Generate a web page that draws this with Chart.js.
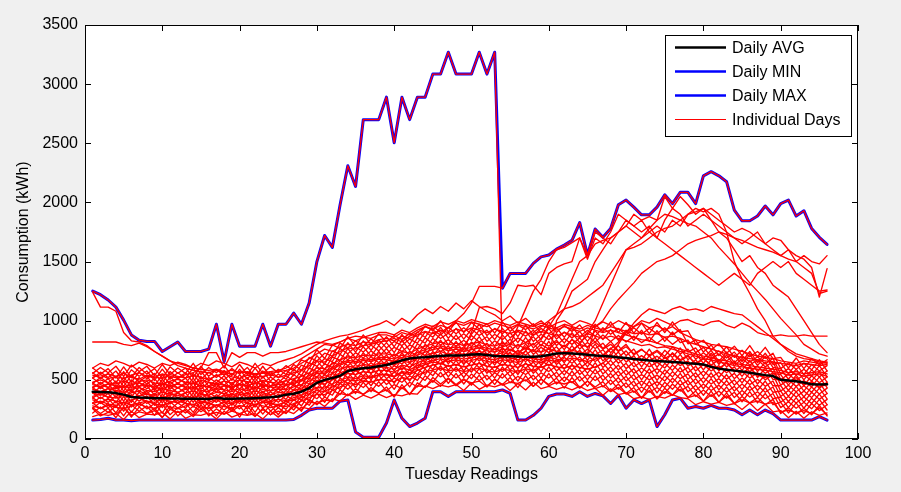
<!DOCTYPE html>
<html>
<head>
<meta charset="utf-8">
<script src="https://cdn.jsdelivr.net/npm/chart.js@4.4.0/dist/chart.umd.min.js"></script>
<style>
  html, body { margin: 0; padding: 0; background: #f0f0f0; }
  canvas { display: block; }
</style>
</head>
<body>
<canvas id="chart" width="901" height="492"></canvas>
<script>
// Tuesday consumption readings (96 readings per day, kWh)
const readings = [1,2,3,4,5,6,7,8,9,10,11,12,13,14,15,16,17,18,19,20,21,22,23,24,25,26,27,28,29,30,31,32,33,34,35,36,37,38,39,40,41,42,43,44,45,46,47,48,49,50,51,52,53,54,55,56,57,58,59,60,61,62,63,64,65,66,67,68,69,70,71,72,73,74,75,76,77,78,79,80,81,82,83,84,85,86,87,88,89,90,91,92,93,94,95,96];
const xTickValues = [0,10,20,30,40,50,60,70,80,90,100];
const yTickValues = [0,500,1000,1500,2000,2500,3000,3500];
const legendEntries = ['Daily AVG', 'Daily MIN', 'Daily MAX', 'Individual Days'];

const dailyAvg = [400,398,395,388,375,355,350,348,345,344,342,342,340,340,340,338,348,340,340,342,342,345,348,352,360,375,382,400,430,475,500,515,535,575,590,598,605,615,626,645,665,680,688,692,698,702,705,706,708,715,716,710,702,700,700,698,696,696,700,710,722,726,722,718,712,705,702,697,690,684,676,670,664,660,655,650,646,640,636,630,610,595,585,578,570,560,550,540,532,500,494,488,478,462,460,462];
const dailyMin = [160,165,175,160,160,155,160,160,160,160,160,160,160,160,160,160,160,160,160,160,160,160,160,160,160,160,165,200,245,260,260,260,320,330,60,15,15,15,135,330,175,105,135,175,400,400,360,400,400,400,400,400,400,415,385,160,160,200,260,360,380,380,360,400,360,385,365,300,370,260,330,300,330,105,205,330,345,260,275,260,285,260,260,245,205,245,205,245,215,160,160,160,160,160,190,160];
const dailyMax = [1250,1220,1175,1115,1005,880,835,825,825,740,780,820,740,740,740,760,970,655,970,785,785,785,970,785,970,970,1065,970,1150,1500,1720,1620,1980,2310,2135,2700,2700,2700,2890,2505,2890,2700,2890,2890,3085,3085,3270,3085,3085,3085,3270,3085,3270,1275,1400,1400,1400,1485,1540,1555,1605,1640,1680,1830,1555,1775,1705,1780,1980,2020,1960,1895,1895,1960,2065,1990,2085,2085,1990,2225,2260,2225,2175,1935,1845,1845,1885,1970,1895,1990,2020,1885,1930,1780,1705,1645];

// Individual Tuesdays
const day01 = [190,210,200,215,165,235,180,210,205,225,170,235,175,205,200,220,170,235,185,210,200,215,170,235,185,240,215, 270,255,320,275,340,320,380,335,370,345,380, 350,375,365,385,380,450,425,455,440,460,410,475,420,455,440,465,410,470,415,480,425,445,420,440,415,445,410,430,370,425,375,390, 340,355,335,360,345,375,350,340,290,315,295,310,285,300,250,305,240,295,230, 240,180,235,175,230,200,220];
const day02 = [255,195,225,210,265,200,230,215,240,185,250,225,240,190,255,205,225,210,235,215,240,190,260,205,235,220,275, 250,315,300,330,320,385,370,400,380,415,390, 415,360,435,380,450,440,495,445,510,450,500,475,490,440,505,455,480,470,500,445,510,450,480,465,485,430,490,425,450,400,435,380, 405,345,410,340,400,370,420,350,370,320,375,310,365,300,330,305,320,295,310, 230,245,220,240,215,265,205];
const day03 = [265,215,260,180,275,185,270,215,260,180,280,195,255,205,290,195,255,210,270,185,285,195,250,205,265,215,295, 235,335,290,355,315,415,365,425,375,435,385, 440,355,460,375,475,435,520,465,515,460,510,455,540,445,505,460,520,435,535,445,505,460,515,430,520,435,490,440,485,405,465,385, 435,345,440,340,430,370,450,350,405,320,405,310,390,300,360,305,350,290,335, 215,265,210,260,205,285,195];
const day04 = [220,270,225,280,195,290,235,280,200,295,205,265,220,280,230,275,195,290,235,280,200,295,210,290,205,300,245, 330,285,385,310,415,375,465,385,480,400,485, 405,460,425,480,440,535,480,565,470,555,465,550,495,540,460,555,475,530,490,540,460,555,465,525,475,530,445,535,440,500,420,475, 395,440,395,435,385,465,405,445,360,415,360,405,345,395,315,400,305,385,290, 310,220,305,215,300,240,290];
const day05 = [305,255,300,220,315,225,310,255,300,220,315,260,305,225,320,235,290,245,300,255,310,225,320,235,295,250,335, 280,380,340,405,370,470,420,480,435,495,445, 505,420,525,440,540,495,580,525,570,515,565,510,595,500,560,515,575,490,590,500,560,515,565,485,575,490,545,495,540,460,520,435, 490,395,490,390,480,420,500,400,455,370,455,360,440,350,410,355,400,340,385, 265,315,260,310,255,335,245];
const day06 = [260,310,265,320,235,330,275,320,240,335,250,305,260,345,250,310,265,325,240,335,250,345,260,315,265,325,275, 365,325,430,355,460,420,515,435,530,450,540, 460,515,480,535,495,590,535,620,525,610,520,605,550,595,515,610,530,585,545,595,515,610,520,580,530,585,500,590,495,555,475,530, 445,490,445,485,435,515,455,495,410,465,410,455,395,445,365,450,355,435,340, 355,265,350,260,345,285,335];
const day07 = [350,300,345,265,360,270,355,300,345,265,360,305,350,270,365,280,335,290,345,300,355,270,365,280,340,295,380, 325,425,385,450,415,515,470,530,485,545,495, 555,470,575,490,590,545,635,580,625,570,620,565,650,555,615,570,630,545,645,555,615,570,620,540,630,545,600,550,595,515,575,490, 545,450,545,445,535,475,555,455,510,425,510,415,495,405,465,410,455,395,440, 310,360,305,355,300,380,290];
const day08 = [305,355,310,365,280,375,320,365,285,380,295,350,305,390,295,355,310,370,285,380,295,390,305,360,310,370,325, 415,375,480,405,510,470,565,485,580,500,590, 510,565,530,585,545,640,590,675,580,665,575,660,605,650,570,665,585,640,600,650,570,665,575,635,585,640,555,645,550,610,530,585, 500,545,500,540,490,570,510,550,465,520,465,510,450,500,420,505,410,490,395, 405,315,400,310,395,335,385];
const day09 = [390,340,385,305,400,310,395,340,385,305,400,345,390,310,405,320,375,330,385,340,395,310,405,320,380,335,420, 365,465,430,495,460,565,520,580,535,595,545, 605,520,625,540,640,595,685,630,675,620,670,615,700,605,665,620,680,595,695,605,665,620,670,590,680,595,650,600,645,565,625,540, 595,500,595,495,585,525,605,505,560,475,560,465,545,455,515,460,505,445,490, 360,410,355,405,350,430,340];
const day10 = [345,395,350,405,320,415,360,405,325,420,335,390,345,430,335,395,350,410,325,420,335,430,345,400,350,410,365, 455,420,525,450,555,520,615,535,630,550,640, 565,620,585,640,600,695,645,730,635,720,630,715,660,705,625,720,640,695,655,705,625,720,630,690,640,695,610,700,605,665,585,640, 555,600,555,595,545,625,565,605,520,575,520,565,505,555,475,560,465,545,450, 450,360,445,355,440,380,430];
const day11 = [435,385,430,350,445,355,440,385,430,350,445,390,435,355,450,365,420,375,430,385,440,355,450,365,425,380,465, 410,515,480,545,510,615,570,630,585,645,595, 660,575,680,595,695,650,740,685,730,675,725,670,755,660,720,675,735,650,750,660,720,675,725,645,735,650,705,655,700,620,680,595, 650,555,650,550,640,580,660,560,615,530,615,520,600,510,570,515,560,500,545, 405,455,400,450,395,475,385];
const day12 = [390,440,395,450,365,460,405,450,370,465,380,435,390,475,380,440,395,455,370,465,380,475,390,445,395,455,410, 500,465,570,495,605,570,665,585,680,600,690, 615,670,635,690,655,750,700,785,690,775,685,770,715,760,680,775,695,750,710,760,680,775,685,745,695,750,665,755,660,720,640,695, 610,655,610,650,600,680,620,660,575,630,575,620,560,610,530,615,520,600,505, 500,410,495,405,490,430,480];
const day13 = [475,425,470,390,485,395,480,425,470,390,485,430,475,395,490,405,460,415,470,425,480,395,490,405,465,420,505, 450,555,525,590,560,665,620,680,635,695,645, 710,625,730,645,750,705,795,740,785,730,780,725,810,715,775,730,790,705,805,715,775,730,780,700,790,705,760,710,755,675,735,650, 705,610,705,605,695,635,715,615,670,585,670,575,655,565,625,570,615,555,600, 455,500,445,495,440,525,435];
const day14 = [430,480,435,490,405,500,445,490,410,505,420,475,430,515,420,480,435,495,410,505,420,515,430,485,435,495,450, 540,505,615,540,650,620,715,635,730,650,740, 665,720,685,740,705,800,750,835,740,825,735,820,765,810,730,825,745,800,760,810,730,825,735,795,745,800,715,805,710,770,690,745, 660,705,660,700,650,730,670,710,625,680,625,670,610,660,580,665,570,650,555, 545,455,540,450,535,475,525];
const day15 = [515,465,510,430,525,435,520,465,510,430,525,470,515,435,530,445,500,455,510,465,520,435,530,445,505,460,545, 495,600,570,635,605,715,670,730,685,745,695, 765,680,785,700,805,760,850,795,840,785,835,780,865,770,830,785,845,760,860,770,830,785,835,755,845,760,815,765,810,730,790,705, 760,665,760,660,750,690,770,670,725,640,725,630,710,620,680,625,670,610,655, 500,550,495,545,490,570,480];
const day16 = [470,520,475,530,445,540,485,530,450,545,460,515,470,555,460,520,475,535,450,545,460,555,470,525,475,535,490, 580,550,660,585,695,665,765,685,780,700,790, 720,775,740,795,760,855,805,890,795,880,790,875,820,865,785,880,800,855,815,865,785,880,790,850,800,855,770,860,765,825,745,800, 710,755,710,750,700,780,720,760,675,730,675,720,660,710,630,715,620,700,605, 595,505,590,500,585,525,575];
const day17 = [560,510,555,475,570,480,565,510,555,475,570,515,560,480,575,490,545,500,555,510,565,480,575,490,550,505,590, 535,645,615,680,655,765,720,780,735,795,745, 815,730,835,750,855,810,905,850,895,840,890,835,920,825,885,840,900,815,915,825,885,840,890,810,900,815,870,820,880,825,875,820, 870,815,860,810,860,800,850,735,770,680,750,655,735,645,705,650,695,635,680, 550,595,540,590,535,620,525];
const day18 = [515,565,520,575,490,585,530,575,495,590,505,560,515,600,505,565,520,580,495,590,505,600,515,570,520,580,535, 625,595,705,630,745,715,815,735,830,750,840, 770,825,790,845,810,905,860,945,850,935,845,930,875,920,840,935,855,910,870,920,840,935,845,905,855,910,825,915,840,925,835,920, 835,920,825,915,825,905,815,835,730,775,700,745,685,735,655,740,645,725,630, 645,550,635,545,630,575,620];
const day19 = [600,550,595,515,610,520,605,550,595,515,610,555,600,520,615,530,585,540,595,550,605,520,615,530,590,545,630, 580,690,660,725,700,810,770,830,785,845,795, 865,780,885,800,905,860,955,900,945,890,940,885,970,875,935,890,950,865,965,875,935,890,940,860,950,865,920,870,940,885,935,880, 940,885,935,890,940,880,925,805,835,735,795,705,780,690,750,695,740,680,725, 595,645,590,640,585,670,575];
const day20 = [555,605,560,615,530,625,570,615,535,630,545,600,555,640,545,605,560,620,535,630,545,640,555,610,560,620,575, 670,640,755,680,795,765,865,785,880,800,890, 820,875,840,895,860,955,915,1000,905,990,900,985,930,975,895,990,910,965,925,975,895,990,900,960,910,965,880,970,905,990,900,985, 895,980,890,985,900,990,905,915,800,835,755,805,725,785,705,790,695,775,680, 690,600,685,595,680,625,670];
// the peak day (sets the morning and midday maximum)
const day21 = [1250,1220,1175,1115,1005,880,835,825,825,740,780,820,740,740,740,760,970,655,970,785,785,785,970,785,970,970,1065,970,1150,1500,1720,1620,1980,2310,2135,2700,2700,2700,2890,2505,2890,2700,2890,2890,3085,3085,3270,3085,3085,3085,3270,3085,3270, 700,760,720,780,740,800,760,820,780,840,800,780,820,760,800,740,780,720,760,700,740,680,720,660,700,640,680,620,600,640,580,560,600,540,520,560,500,480,520,460,480,440,460];
// the low day (sets the minimum)
const day22 = [160,165,175,160,160,155,160,160,160,160,160,160,160,160,160,160,160,160,160,160,160,160,160,160,160,160,165,200,245,260,260,260,320,330,60,15,15,15,135,330,175,105,135,175,400,400,360,400,400,400,400,400,400,415,385,160,160,200,260,360,380,380,360,400,360,385,365,300,370,260,330,300,330,105,205,330,345,260,275,260,285,260,260,245,205,245,205,245,215,160,160,160,160,160,190,160];
// the afternoon peak day
const day23 = [520,545,510,530,555,520,505,540,525,510,545,530,515,540,520,505,535,550,525,510,540,520,530,545,520,540,560, 580,620,660,650,700,740,770,760,790,800,820, 830,850,820,870,900,950,920,880, 940,1000,1060,1150,1290,1290,1290, 1275,1400,1400,1400,1485,1540,1555,1605,1640,1680,1830,1555,1775,1705,1780,1980,2020,1960,1895,1895,1960,2065,1990,2085,2085,1990,2225,2260,2225,2175,1935,1845,1845,1885,1970,1895,1990,2020,1885,1930,1780,1705,1645];
const day24 = [600,640,620,660,640,610,650,630,600,640,620,650,630,600,640,620,660,640,610,650,630,600,640,620,650,670,690, 720,760,800,830,850,870,880,900,920,950,970, 1000,960,1020,980,1050,1100,1060,1120,1080,1150,1100,1170,1120,1080,1050,1000,1040,980,1020,960,1000,940,980,1000,960,1000,980,950,990,960,1000,970, 950,980,940,960,920,950,900,870,840,820,800,790,780,760,740,720,700,690,680, 660,650,640,660,650,640,650];
const day25 = [820,820,820,820,800,790,810,780,740,700,660,640,620,600,590,580,590,570,580,560,570,550,560,570,580,600,640, 680,720,760,800,790,820,850,830,860,850,880, 880,860,900,880,920,950,930,960,940,980,960,990,970,950,980,960,940,970,950,930,960,940,920,950,930,910,940,920,900,920,900,880, 860,840,830,810,790,780,760,740,720,700,690,670,660,640,630,620,610,600,590, 580,560,570,550,560,570,550];
const day26 = [1240,1115,1115,1080,900,830,820,790,740,700,660,620,600,580,570,560,580,560,550,570,560,540,560,550,570,580,600, 640,680,720,760,740,780,800,790,820,810,840, 850,830,870,850,880,910,890,920,900,930,910,940,920,900,930,910,890,920,900,880,910,890,870,900,880,860,890,870,850,870,850,830, 810,790,800,770,780,760,740,720,700,680,670,650,640,620,610,600,590,580,570, 560,540,550,530,540,550,530];
const day27 = [540,520,550,530,510,540,560,530,520,550,530,515,545,560,600,730,730,600,730,690,730,730,700,730,730,740,760, 780,800,820,810,800,820,850,870,860,880,900, 900,880,920,900,940,970,950,990,970,1000,980,1010,990,970,1000,980,960,990,970,950,980,960,940,970,950,930,960,940,920,950,930,910, 890,900,880,890,860,870,850,820,800,780,760,740,720,700,690,680,670,660,650, 640,630,620,640,630,620,630];
const day28 = [300,320,295,285,310,290,305,320,295,285,310,325,300,290,315,300,285,310,295,320,305,290,315,300,290,315,330, 350,380,410,400,440,470,500,490,510,520,540, 550,530,570,560,600,630,650,640,680,700,760,900,1110,1120,1100, 1060,1150,1300,1290,1300,1220,1400,1450,1480,1500,1700,1520,1700,1650,1750,1900,1850,1800,1850,1750,1700,1850,1950,1900,1800,1850,1900,1850,1800,1750,1700,1650,1700,1750,1650,1600,1550,1600,1500,1550,1500,1480,1550];
const day29 = [280,260,285,270,255,280,295,270,260,285,270,255,280,295,270,260,285,275,260,285,270,295,280,265,285,275,300, 320,350,380,375,410,440,470,460,490,480,500, 500,485,520,505,540,565,585,600,575,590,570,585,600,575,565,590,580,565,595,575,620,700, 1000,1100,1250,1300,1350,1500,1600,1700,1750,1800,1900,1850,1880,1850,2050,1950,2050,1980,1900,1950,1850,1750,1700,1600,1500,1550,1450,1400,1300,1250,1200,1100,1000,900,800,730];
const day30 = [360,380,355,345,370,350,365,380,355,345,370,385,360,350,375,360,345,370,355,380,365,350,375,360,350,375,390, 410,440,470,465,500,530,555,545,570,560,580, 580,565,600,585,620,645,665,680,655,670,650,665,680,655,645,670,660,645,675,655,645,670,650, 700,750,800,900,1000,1150,1300,1450,1600,1650,1700,1750,1800,1750,1850,1800,1900,1950,1920,1950,1900,1750,1500,1350,1230,1100,1000,870,800,740,700,680,670,650,640];
const day31 = [420,400,425,410,395,420,435,410,400,425,410,395,420,435,410,400,425,415,400,425,410,435,420,405,425,415,440, 460,490,525,520,555,590,615,605,630,620,640, 640,625,660,645,680,705,725,740,715,730,710,725,740,715,705,730,720,705,740, 900,950,1000,1050,1100,1120,1150,1200,1250,1300,1400,1500,1600,1620,1650,1700,1750,1780,1800,1850,1900,1920,1950,1900,1850,1800,1750,1780,1750,1700,1650,1700,1680,1600,1550,1520,1450,1200,1440];
const day32 = [440,460,435,425,450,430,445,460,435,425,450,465,440,430,455,440,425,450,435,460,445,430,455,440,430,455,470, 490,520,555,550,590,625,650,640,665,655,675, 670,655,690,675,710,735,755,770,745,760,740,755,770,745,735,760,750,735,765,745,735,760,740,730,750,735,720, 950,1000,1100,1180,1250,1320,1400,1450,1500,1520,1550,1600,1650,1680,1700,1720,1750,1730,1700,1680,1650,1620,1600,1580,1550,1520,1500,1450,1400,1230,1250];
const day33 = [330,310,335,320,305,330,345,320,310,335,320,305,330,345,320,310,335,325,310,335,320,345,330,315,335,325,350, 370,400,435,430,465,495,520,510,535,525,545, 540,525,560,545,580,605,625,640,615,630,610,625,640,615,605,630,620,605,635,615,605,630,610,600,620,605,590,610,640,700, 800,900,980,1050,1100,1080,1060,1100,1120,1090,1100,1080,1120,1100,1080,1060,1050,1000,950,900,850,800,760,720,700,680,660,650];
const day34 = [390,370,395,380,365,390,405,380,370,395,380,365,390,405,380,370,395,385,370,395,380,405,390,375,395,385,410, 430,460,495,490,525,560,585,575,600,590,610, 605,590,625,610,645,670,690,705,680,695,675,690,705,680,670,695,685,670,700,680,670,695,675,665,685,670,655,675,700,760, 820,900,950,1000,980,1020,990,960,1000,1010,980,960,990,1000,960,940,980,950,900,880,870,880,870,870,880,870,870,870];
const day35 = [460,440,465,450,435,460,475,450,440,465,450,435,460,475,450,440,465,455,440,465,450,475,460,445,465,455,480, 500,535,570,565,605,640,665,655,680,670,690, 690,675,710,695,730,755,775,790,765,780,760,775,790,765,755,780, 800,950,1100,1250,1350,1500,1600,1620,1660,1700,1550,1750,1700,1650,1750,1850,1800,1750,1800,1700,1650,1600,1550,1500,1450,1400,1350,1300,1350,1400,1350,1300,1400,1450,1500,1450,1500,1400,1350,1300,1250,1260];
const day36 = [480,500,475,465,490,470,485,500,475,465,490,505,480,470,495,480,465,490,475,500,485,470,495,480,470,495,510, 530,560,600,595,635,670,695,685,710,700,720, 720,705,740,725,760,785,805,820,795,810,790,805,820,795,785,810,800,785,815,795,850, 950,1050,1200,1350,1500,1550,1650,1680,1700,1750,1800,1750,1700,1780,1850,1900,1880,1850,1820,1800,1750,1700,1620,1550,1480,1400,1320,1250,1180,1100,1020,950,880,800,760,720,700];

const individualDays = [day01,day02,day03,day04,day05,day06,day07,day08,day09,day10,day11,day12,day13,day14,day15,day16,day17,day18,day19,day20,day21,day22,day23,day24,day25,day26,day27,day28,day29,day30,day31,day32,day33,day34,day35,day36];

const toPoints = values => values.map((v, i) => ({ x: readings[i], y: v }));

const datasets = [
  { label: 'Daily AVG', data: toPoints(dailyAvg), borderColor: '#000000', borderWidth: 2.5, order: 0 },
  { label: 'Daily MIN', data: toPoints(dailyMin), borderColor: '#0000ff', borderWidth: 3, order: 2 },
  { label: 'Daily MAX', data: toPoints(dailyMax), borderColor: '#0000ff', borderWidth: 3, order: 2 }
];
individualDays.forEach((day, i) => {
  datasets.push({
    label: i === 0 ? 'Individual Days' : 'Individual Day ' + (i + 1),
    data: toPoints(day),
    borderColor: '#ff0000',
    borderWidth: 1.35,
    order: 1
  });
});

const FONT = '"Liberation Sans", Arial, Helvetica, sans-serif';
Chart.defaults.font.family = FONT;
Chart.defaults.font.size = 16;
Chart.defaults.color = '#000000';

// figure background, white axes, boxed frame with inward ticks
const axesFrame = {
  id: 'axesFrame',
  beforeDraw(chart) {
    const { ctx, chartArea: a } = chart;
    ctx.save();
    ctx.fillStyle = '#f0f0f0';
    ctx.fillRect(0, 0, chart.width, chart.height);
    ctx.fillStyle = '#ffffff';
    ctx.fillRect(a.left, a.top, a.right - a.left, a.bottom - a.top);
    ctx.restore();
  },
  afterDatasetsDraw(chart) {
    const { ctx, chartArea: a, scales } = chart;
    const tick = 6;
    ctx.save();
    ctx.strokeStyle = '#000000';
    ctx.lineWidth = 1;
    ctx.beginPath();
    scales.x.ticks.forEach(t => {
      const px = Math.round(scales.x.getPixelForValue(t.value)) + 0.5;
      ctx.moveTo(px, a.bottom); ctx.lineTo(px, a.bottom - tick);
      ctx.moveTo(px, a.top); ctx.lineTo(px, a.top + tick);
    });
    scales.y.ticks.forEach(t => {
      const py = Math.round(scales.y.getPixelForValue(t.value)) + 0.5;
      ctx.moveTo(a.left, py); ctx.lineTo(a.left + tick, py);
      ctx.moveTo(a.right, py); ctx.lineTo(a.right - tick, py);
    });
    ctx.stroke();
    ctx.strokeRect(a.left + 0.5, a.top + 0.5, a.right - a.left - 1, a.bottom - a.top - 1);
    ctx.restore();
  }
};

// boxed legend in the upper right corner of the axes
const boxLegend = {
  id: 'boxLegend',
  afterDraw(chart) {
    const { ctx } = chart;
    const box = { x: 665.5, y: 35.5, w: 186, h: 101 };
    ctx.save();
    ctx.fillStyle = '#ffffff';
    ctx.fillRect(box.x, box.y, box.w, box.h);
    ctx.strokeStyle = '#000000';
    ctx.lineWidth = 1;
    ctx.strokeRect(box.x, box.y, box.w, box.h);
    ctx.font = '16px ' + FONT;
    ctx.textBaseline = 'middle';
    ctx.textAlign = 'left';
    legendEntries.forEach((label, i) => {
      const ds = chart.data.datasets.find(d => d.label === label);
      const y = 47.5 + i * 24;
      ctx.strokeStyle = ds.borderColor;
      ctx.lineWidth = ds.borderWidth > 2 ? 2.5 : 1;
      ctx.beginPath();
      ctx.moveTo(675, y);
      ctx.lineTo(726, y);
      ctx.stroke();
      ctx.fillStyle = '#000000';
      ctx.fillText(label, 732, y + 1);
    });
    ctx.restore();
  }
};

new Chart(document.getElementById('chart'), {
  type: 'line',
  data: { datasets },
  plugins: [axesFrame, boxLegend],
  options: {
    responsive: false,
    devicePixelRatio: 1,
    animation: false,
    events: [],
    layout: { padding: { top: 25, right: 43, left: 0, bottom: 0 } },
    elements: {
      point: { radius: 0, hoverRadius: 0 },
      line: { tension: 0, borderJoinStyle: 'round', borderCapStyle: 'round', fill: false }
    },
    plugins: { legend: { display: false }, tooltip: { enabled: false } },
    scales: {
      x: {
        type: 'linear',
        min: 0,
        max: 100,
        afterBuildTicks: s => { s.ticks = xTickValues.map(v => ({ value: v })); },
        afterFit: s => { s.height = 53; },
        grid: { display: false, drawTicks: false },
        border: { display: false },
        ticks: { padding: 5, color: '#000000', font: { size: 16 }, maxRotation: 0, autoSkip: false, callback: v => String(v) },
        title: { display: true, text: 'Tuesday Readings', color: '#000000', font: { size: 16 }, padding: { top: 0, bottom: 8 } }
      },
      y: {
        type: 'linear',
        min: 0,
        max: 3500,
        afterBuildTicks: s => { s.ticks = yTickValues.map(v => ({ value: v })); },
        afterFit: s => { s.width = 85; },
        grid: { display: false, drawTicks: false },
        border: { display: false },
        ticks: { padding: 7, color: '#000000', font: { size: 16 }, autoSkip: false, callback: v => String(v) },
        title: { display: true, text: 'Consumption (kWh)', color: '#000000', font: { size: 16 }, padding: { top: 14, bottom: 0 } }
      }
    }
  }
});
</script>
</body>
</html>
